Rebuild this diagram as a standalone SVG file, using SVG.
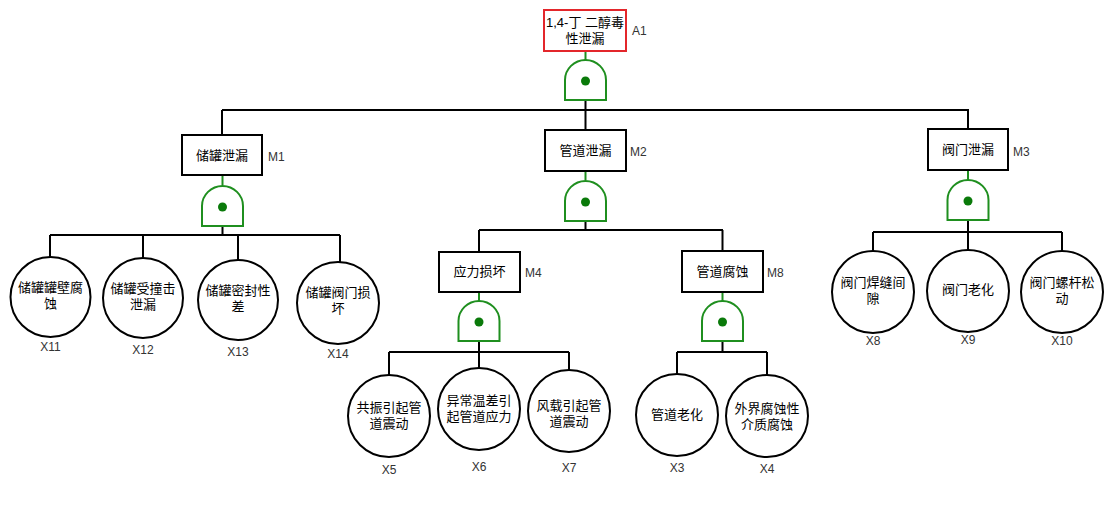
<svg xmlns="http://www.w3.org/2000/svg" xmlns:xlink="http://www.w3.org/1999/xlink" width="1112" height="519" viewBox="0 0 1112 519">
<style>
.box{fill:#fff;stroke:#000;stroke-width:2}
.top{fill:#fff;stroke:#e3262b;stroke-width:2}
.ev{fill:#fff;stroke:#000;stroke-width:2}
.t{font-family:"Liberation Sans","Noto Sans CJK SC",sans-serif;font-size:13px;fill:#000;text-anchor:middle}
.lb{font-family:"Liberation Sans","Noto Sans CJK SC",sans-serif;font-size:12px;fill:#333}
.lc{font-family:"Liberation Sans","Noto Sans CJK SC",sans-serif;font-size:12px;fill:#333;text-anchor:middle}
.ln{fill:none;stroke:#000;stroke-width:2}
.gl{fill:none;stroke:#1f8f1f;stroke-width:2}
</style>
<defs>
<g id="gate">
<path d="M0,40 L0,20 A20.5,20 0 0 1 41,20 L41,40 Z" fill="#fff" stroke="#1f8f1f" stroke-width="2"/>
<circle cx="20.5" cy="21" r="4.5" fill="#0a7a0a"/>
</g>
</defs>
<g id="connectors">
<path class="gl" d="M585.5,51V60 M222.5,175V185 M585.5,171V180 M968,170V180 M479,292V301 M722.5,292V301"/>
<path class="ln" d="M585.5,100V110 M222,110H969 M222,110V135 M585.5,110V130 M968,110V129"/>
<path class="ln" d="M222.5,226V235 M50,235H340 M50,235V257 M143,235V258 M238,235V260 M340,235V262"/>
<path class="ln" d="M585.5,221V230 M479,230H723 M479,230V252 M722.5,230V251"/>
<path class="ln" d="M968,220V232 M873,232H1062 M873,232V252 M968,232V250 M1062,232V252"/>
<path class="ln" d="M479,341V352 M389,352H569 M389,352V375 M479,352V368 M569,352V370"/>
<path class="ln" d="M722.5,341V352 M677,352H767 M677,352V374 M767,352V375"/>
</g>
<g id="A1"><rect class="top" x="544" y="10" width="82" height="41"/><text class="t" x="585" y="27">1,4-丁 二醇毒</text><text class="t" x="585" y="43">性泄漏</text><text class="lb" x="632" y="35">A1</text><use xlink:href="#gate" x="565" y="60"/></g>
<g id="M1"><rect class="box" x="182" y="135" width="80" height="40"/><text class="t" x="222" y="160">储罐泄漏</text><text class="lb" x="268" y="161">M1</text><use xlink:href="#gate" x="202" y="186"/></g>
<g id="M2"><rect class="box" x="545" y="130" width="81" height="41"/><text class="t" x="585.5" y="155">管道泄漏</text><text class="lb" x="630" y="156">M2</text><use xlink:href="#gate" x="565" y="181"/></g>
<g id="M3"><rect class="box" x="928" y="129" width="80" height="41"/><text class="t" x="968" y="154">阀门泄漏</text><text class="lb" x="1013" y="156">M3</text><use xlink:href="#gate" x="947.5" y="180"/></g>
<g id="M4"><rect class="box" x="439" y="252" width="81" height="40"/><text class="t" x="479.5" y="276">应力损坏</text><text class="lb" x="525" y="277">M4</text><use xlink:href="#gate" x="458.5" y="301"/></g>
<g id="M8"><rect class="box" x="682" y="251" width="81" height="41"/><text class="t" x="722.5" y="276">管道腐蚀</text><text class="lb" x="767" y="277">M8</text><use xlink:href="#gate" x="702" y="301"/></g>
<g id="X11"><circle class="ev" cx="50.5" cy="297" r="40"/><text class="t" x="50.5" y="292">储罐罐壁腐</text><text class="t" x="50.5" y="308">蚀</text><text class="lc" x="50.5" y="351">X11</text></g>
<g id="X12"><circle class="ev" cx="143" cy="298" r="40"/><text class="t" x="143" y="293">储罐受撞击</text><text class="t" x="143" y="309">泄漏</text><text class="lc" x="143" y="354">X12</text></g>
<g id="X13"><circle class="ev" cx="238" cy="300" r="40"/><text class="t" x="238" y="295">储罐密封性</text><text class="t" x="238" y="311">差</text><text class="lc" x="238" y="356">X13</text></g>
<g id="X14"><circle class="ev" cx="338" cy="303" r="41"/><text class="t" x="338" y="297">储罐阀门损</text><text class="t" x="338" y="313">坏</text><text class="lc" x="338" y="358">X14</text></g>
<g id="X5"><circle class="ev" cx="389" cy="416" r="41"/><text class="t" x="389" y="412">共振引起管</text><text class="t" x="389" y="428">道震动</text><text class="lc" x="389" y="474">X5</text></g>
<g id="X6"><circle class="ev" cx="479" cy="409" r="41"/><text class="t" x="479" y="405">异常温差引</text><text class="t" x="479" y="421">起管道应力</text><text class="lc" x="479" y="471">X6</text></g>
<g id="X7"><circle class="ev" cx="569" cy="411" r="41"/><text class="t" x="569" y="410">风载引起管</text><text class="t" x="569" y="426">道震动</text><text class="lc" x="569" y="472">X7</text></g>
<g id="X3"><circle class="ev" cx="677" cy="415" r="41"/><text class="t" x="677" y="419">管道老化</text><text class="lc" x="677" y="472">X3</text></g>
<g id="X4"><circle class="ev" cx="767" cy="416" r="41"/><text class="t" x="767" y="413">外界腐蚀性</text><text class="t" x="767" y="429">介质腐蚀</text><text class="lc" x="767" y="473">X4</text></g>
<g id="X8"><circle class="ev" cx="873" cy="292" r="41"/><text class="t" x="873" y="287">阀门焊缝间</text><text class="t" x="873" y="303">隙</text><text class="lc" x="873" y="345">X8</text></g>
<g id="X9"><circle class="ev" cx="968" cy="291" r="41"/><text class="t" x="968" y="294">阀门老化</text><text class="lc" x="968" y="344">X9</text></g>
<g id="X10"><circle class="ev" cx="1062" cy="292" r="41"/><text class="t" x="1062" y="287">阀门螺杆松</text><text class="t" x="1062" y="303">动</text><text class="lc" x="1062" y="345">X10</text></g>
</svg>
